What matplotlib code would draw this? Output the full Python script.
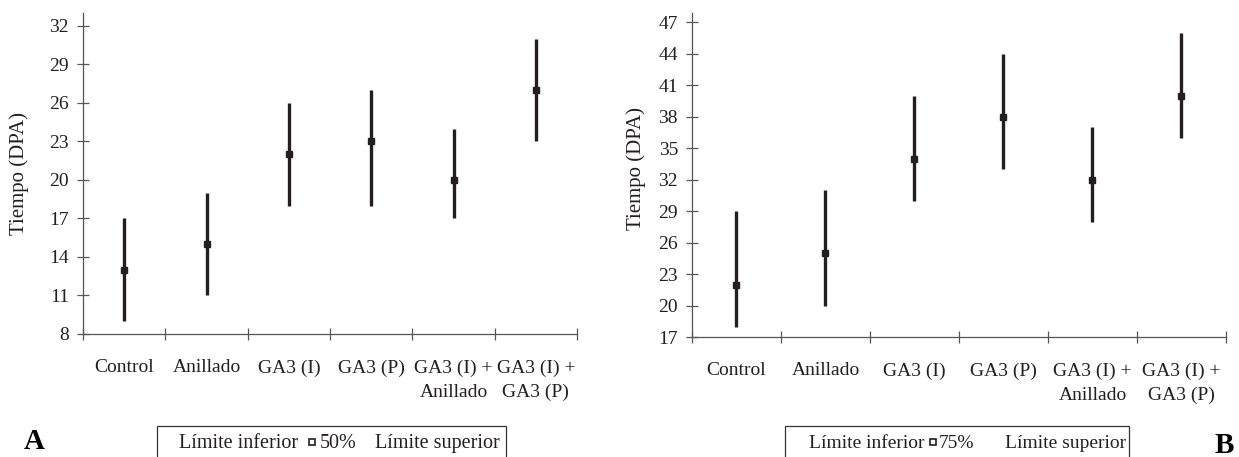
import matplotlib
matplotlib.use("Agg")
import matplotlib.pyplot as plt
from matplotlib.patches import Rectangle
from matplotlib.lines import Line2D

plt.rcParams["font.family"] = ["Liberation Serif", "DejaVu Serif"]

# ---------------------------------------------------------------------------
# Data
# ---------------------------------------------------------------------------
CATEGORIES = ["Control", "Anillado", "GA3 (I)", "GA3 (P)",
              "GA3 (I) +\nAnillado", "GA3 (I) +\nGA3 (P)"]

A_LOW = [9, 11, 18, 18, 17, 23]
A_MED = [13, 15, 22, 23, 20, 27]
A_HIGH = [17, 19, 26, 27, 24, 31]

B_LOW = [18, 20, 30, 33, 28, 36]
B_MED = [22, 25, 34, 38, 32, 40]
B_HIGH = [29, 31, 40, 44, 37, 46]

A_YTICKS = list(range(8, 33, 3))
B_YTICKS = list(range(17, 48, 3))

INK = "#231f20"
AXC = "#555555"
W, H = 1239, 457


def fx(px):
    return px / W


def fy(py):
    return 1 - py / H


def draw_panel(ax, low, med, high, yticks, ylim, ylabel_xy):
    xs = [i + 0.5 for i in range(len(CATEGORIES))]
    ax.vlines(xs, low, high, color=INK, lw=2.4, capstyle="butt", zorder=3)
    ax.plot(xs, med, ls="none", marker="s", ms=4.5, color=INK, zorder=4)

    ax.set_xlim(0, len(CATEGORIES))
    ax.set_ylim(*ylim)
    ax.set_yticks(yticks)
    ax.set_yticklabels([str(t) for t in yticks])
    ax.set_xticks(range(len(CATEGORIES) + 1))
    ax.set_xticklabels([])

    for s in ("top", "right"):
        ax.spines[s].set_visible(False)
    for s in ("left", "bottom"):
        ax.spines[s].set_color(AXC)
        ax.spines[s].set_linewidth(0.9)

    ax.tick_params(direction="inout", length=8.6, width=0.9, color=AXC,
                   labelsize=14, labelcolor=INK, pad=5.8)

    for x, lab in zip(xs, CATEGORIES):
        ax.annotate(lab, xy=(x, 0), xycoords=("data", "axes fraction"),
                    xytext=(0, -18.3), textcoords="offset points",
                    ha="center", va="top", fontsize=14, color=INK,
                    linespacing=1.55)

    ax.set_ylabel("Tiempo (DPA)", fontsize=15, color=INK)
    ax.yaxis.set_label_coords(*ylabel_xy)


def draw_key(fig, box_l, box_r, x_inf, x_mk, x_pct, x_sup, pct, size):
    fig.add_artist(Rectangle((fx(box_l), -0.05), fx(box_r - box_l), fy(426) + 0.05,
                             transform=fig.transFigure, fill=False,
                             edgecolor="#333333", lw=0.9))
    base = fy(448)
    fig.text(fx(x_inf), base, "Límite inferior", fontsize=size, color=INK, va="baseline")
    fig.add_artist(Line2D([fx(x_mk)], [fy(442)], transform=fig.transFigure,
                          marker="s", ms=4, mfc="white", mec=INK, mew=1.2, ls="none"))
    fig.text(fx(x_pct), base, pct, fontsize=size, color=INK, va="baseline")
    fig.text(fx(x_sup), base, "Límite superior", fontsize=size, color=INK, va="baseline")


fig = plt.figure(figsize=(12.39, 4.57), dpi=100)

ax_a = fig.add_axes([fx(83), fy(334), fx(577 - 83), (334 - 13) / H])
draw_panel(ax_a, A_LOW, A_MED, A_HIGH, A_YTICKS, (8, 33.0), (-0.11, 0.5))

ax_b = fig.add_axes([fx(692), fy(337), fx(1226 - 692), (337 - 13) / H])
draw_panel(ax_b, B_LOW, B_MED, B_HIGH, B_YTICKS, (17, 47.9), (-0.086, 0.52))

draw_key(fig, 157, 506, 179, 312, 320, 375, "50%", 14.5)
draw_key(fig, 785, 1129, 809, 933, 939, 1005, "75%", 14)

fig.text(fx(24), fy(449), "A", fontsize=21, fontweight="bold", color="black",
         va="baseline")
fig.text(fx(1215), fy(453), "B", fontsize=21, fontweight="bold", color="black",
         va="baseline")

fig.savefig("out.png", dpi=100)
